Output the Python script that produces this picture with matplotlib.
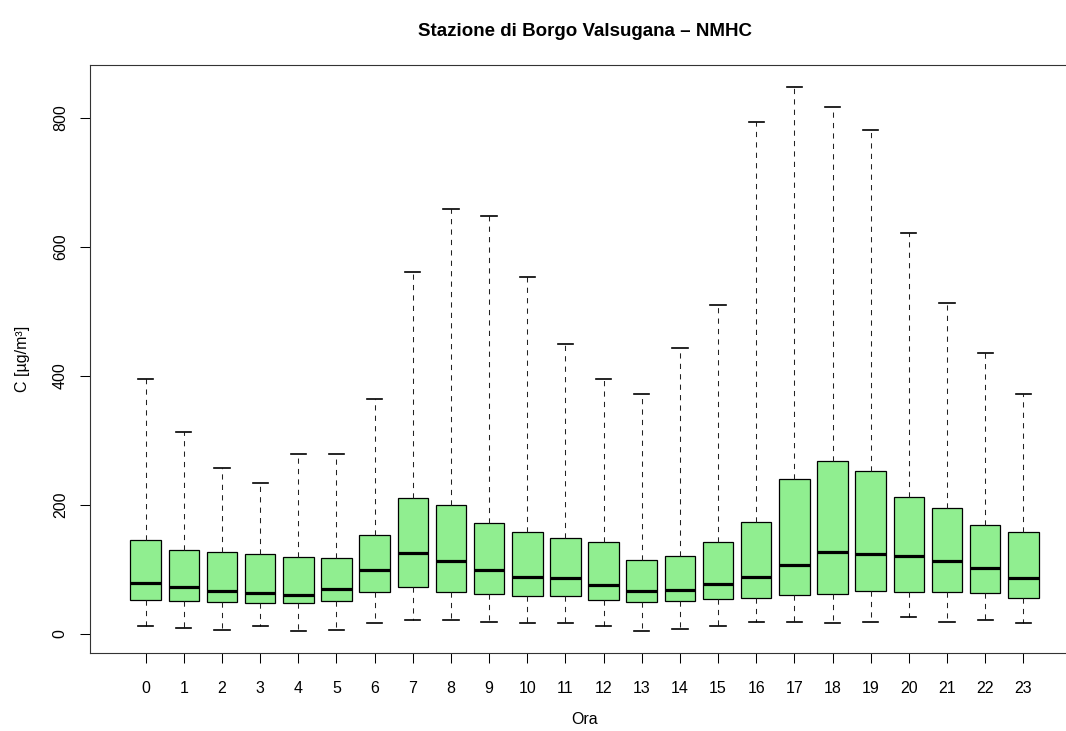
import matplotlib

matplotlib.use("Agg")
import matplotlib.pyplot as plt

plt.rcParams["font.family"] = ["Liberation Sans", "DejaVu Sans"]

# hourly NMHC concentration summaries (µg/m³)
hours = list(range(24))
whisker_low = [12.4, 8.2, 5.1, 12.4, 3.6, 5.1, 16.0, 20.6, 20.6, 17.5, 16.0, 16.0,
               12.4, 3.6, 6.7, 12.4, 17.5, 17.5, 16.0, 17.5, 26.3, 17.5, 20.6, 16.0]
q1 = [52.2, 50.0, 49.1, 48.0, 47.0, 51.1, 64.6, 72.8, 65.0, 62.0, 58.4, 57.8,
      52.7, 49.1, 51.1, 53.8, 54.7, 60.0, 60.9, 66.1, 65.0, 65.0, 63.0, 54.7]
medians = [79.0, 71.7, 66.1, 62.4, 60.0, 69.2, 99.1, 125.0, 112.0, 98.7, 87.8, 86.3,
           75.9, 66.1, 67.1, 77.5, 87.8, 106.4, 126.0, 122.9, 119.8, 112.6, 101.2, 86.8]
q3 = [145.2, 129.0, 127.0, 123.4, 119.3, 117.3, 152.3, 209.6, 199.8, 172.0, 158.0, 147.6,
      141.4, 113.6, 120.4, 141.4, 172.4, 239.7, 268.0, 252.0, 211.8, 194.7, 168.9, 157.0]
whisker_high = [395, 313, 257, 234, 279, 279, 364, 561, 658, 648, 553, 449,
                395, 371, 443, 510, 793, 848, 816, 781, 621, 513, 435, 371]

title = "Stazione di Borgo Valsugana \u2013 NMHC"
x_label = "Ora"
y_label = "C [\u00b5g/m\u00b3]"
y_ticks = [0, 200, 400, 600, 800]

W, H = 1066, 731
fig = plt.figure(figsize=(W / 100, H / 100), dpi=100)

# plot region in pixels (right edge lies past the picture, as in the reference)
left_px, right_px, top_px, bottom_px = 90, 1079, 65, 653
ax = fig.add_axes([left_px / W, 1 - bottom_px / H,
                   (right_px - left_px) / W, (bottom_px - top_px) / H])

stats = [
    {"whislo": lo, "q1": a, "med": m, "q3": b, "whishi": hi, "fliers": []}
    for lo, a, m, b, hi in zip(whisker_low, q1, medians, q3, whisker_high)
]
positions = [h + 1 for h in hours]

ax.bxp(
    stats,
    positions=positions,
    widths=0.8,
    capwidths=0.4,
    patch_artist=True,
    showfliers=False,
    boxprops=dict(facecolor="#90EE90", edgecolor="black", linewidth=0.9),
    medianprops=dict(color="black", linewidth=2.3, solid_capstyle="butt"),
    whiskerprops=dict(color="#222222", linewidth=0.75, linestyle=(0, (5, 5))),
    capprops=dict(color="black", linewidth=1.2),
)

n = len(hours)
ax.set_xlim(0.5 - 0.04 * n, n + 0.5 + 0.04 * n)
lo_all, hi_all = min(whisker_low), max(whisker_high)
span = hi_all - lo_all
ax.set_ylim(lo_all - 0.04 * span, hi_all + 0.04 * span)

ax.set_xticks(positions)
ax.set_xticklabels([str(h) for h in hours])
ax.set_yticks(y_ticks)
ax.set_yticklabels([str(v) for v in y_ticks], rotation=90, va="center")

ax.tick_params(axis="both", direction="out", length=7, width=0.75,
               labelsize=11.5, color="black")
ax.tick_params(axis="x", pad=13.5)
ax.tick_params(axis="y", pad=9)

for spine in ax.spines.values():
    spine.set_color("#333333")
    spine.set_linewidth(0.8)
ax.spines["right"].set_visible(False)

mid_x = (left_px + right_px) / 2 / W
fig.text(mid_x, 1 - 31 / H, title, ha="center", va="center",
         fontsize=13.5, fontweight="bold")
fig.text(mid_x, 1 - 719 / H, x_label, ha="center", va="center", fontsize=11.5)
fig.text(23 / W, 1 - (top_px + bottom_px) / 2 / H, y_label, ha="center",
         va="center", rotation=90, fontsize=11.5)

fig.savefig("out.png", dpi=100)
